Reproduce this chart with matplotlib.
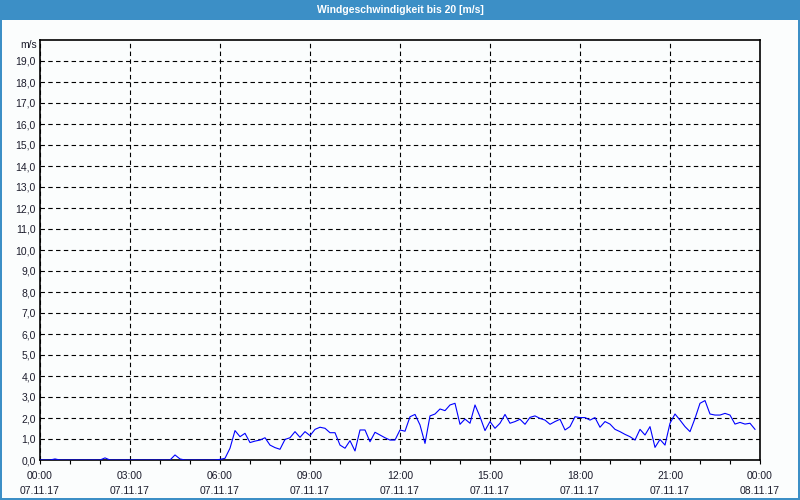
import numpy as np
import matplotlib
matplotlib.use("Agg")
import matplotlib.pyplot as plt
from matplotlib.patches import Rectangle
from matplotlib.ticker import MultipleLocator, FixedLocator

# ---- data (10-minute samples, 07.11.17 00:00 .. 23:50) ----
title = "Windgeschwindigkeit bis 20 [m/s]"
unit_label = "m/s"
step_minutes = 10
wind_speed = [
    0, 0, 0, 0.05, 0, 0, 0, 0, 0, 0, 0, 0,              # 00:00 - 01:50
    0, 0.10, 0, 0, 0, 0, 0, 0, 0, 0, 0, 0,              # 02:00 - 03:50
    0, 0, 0, 0.24, 0.05, 0, 0, 0, 0, 0, 0, 0,           # 04:00 - 05:50
    0.03, 0.08, 0.56, 1.40, 1.11, 1.27,                 # 06:00 - 06:50
    0.83, 0.90, 0.95, 1.06, 0.71, 0.59,                 # 07:00 - 07:50
    0.51, 0.98, 1.06, 1.35, 1.08, 1.35,                 # 08:00 - 08:50
    1.16, 1.46, 1.56, 1.51, 1.30, 1.30,                 # 09:00 - 09:50
    0.71, 0.56, 0.92, 0.43, 1.43, 1.43,                 # 10:00 - 10:50
    0.87, 1.32, 1.19, 1.06, 0.95, 0.95,                 # 11:00 - 11:50
    1.43, 1.37, 2.06, 2.17, 1.67, 0.79,                 # 12:00 - 12:50
    2.10, 2.19, 2.43, 2.35, 2.62, 2.70,                 # 13:00 - 13:50
    1.70, 1.95, 1.75, 2.62, 2.06, 1.40,                 # 14:00 - 14:50
    1.83, 1.51, 1.75, 2.17, 1.75, 1.83,                 # 15:00 - 15:50
    1.94, 1.70, 2.03, 2.10, 1.98, 1.90,                 # 16:00 - 16:50
    1.70, 1.83, 1.94, 1.43, 1.59, 2.06,                 # 17:00 - 17:50
    2.02, 2.02, 1.90, 2.02, 1.56, 1.83,                 # 18:00 - 18:50
    1.71, 1.46, 1.35, 1.22, 1.11, 0.95,                 # 19:00 - 19:50
    1.46, 1.19, 1.59, 0.60, 0.98, 0.71,                 # 20:00 - 20:50
    1.75, 2.19, 1.90, 1.59, 1.35, 1.98,                 # 21:00 - 21:50
    2.70, 2.83, 2.19, 2.14, 2.14, 2.22,                 # 22:00 - 22:50
    2.14, 1.71, 1.79, 1.71, 1.75, 1.46,                 # 23:00 - 23:50
]
x_tick_hours = [0, 3, 6, 9, 12, 15, 18, 21, 24]
x_tick_labels = ["00:00\n07.11.17", "03:00\n07.11.17", "06:00\n07.11.17",
                 "09:00\n07.11.17", "12:00\n07.11.17", "15:00\n07.11.17",
                 "18:00\n07.11.17", "21:00\n07.11.17", "00:00\n08.11.17"]
y_ticks = list(range(0, 20))
y_tick_labels = [f"{v},0" for v in y_ticks]

hours = np.arange(len(wind_speed)) * step_minutes / 60.0

# ---- figure ----
W, H = 800, 500
bg = "#fbfdfd"
blue = "#3c8fc6"
txt = "#1c1c2c"
fig = plt.figure(figsize=(W / 100, H / 100), dpi=100, facecolor=bg)

# title bar and window frame
fig.patches.append(Rectangle((0, 1 - 20 / H), 1, 20 / H, transform=fig.transFigure,
                             facecolor=blue, edgecolor="none", zorder=0))
fig.patches.append(Rectangle((0, 0), 2 / W, 1, transform=fig.transFigure,
                             facecolor=blue, edgecolor="none", zorder=0))
fig.patches.append(Rectangle((1 - 2 / W, 0), 2 / W, 1, transform=fig.transFigure,
                             facecolor=blue, edgecolor="none", zorder=0))
fig.patches.append(Rectangle((0, 0), 1, 2 / H, transform=fig.transFigure,
                             facecolor=blue, edgecolor="none", zorder=0))
fig.text(0.5, 1 - 10 / H, title, color="white", ha="center", va="center",
         fontsize=7.5, fontweight="bold", family="Liberation Sans")

ax = fig.add_axes([40 / W, 40 / H, 720 / W, 420 / H])
ax.set_facecolor(bg)
ax.plot(hours, wind_speed, color="#0000ff", lw=0.8, zorder=3)

ax.set_xlim(0, 24)
ax.set_ylim(0, 20)

ax.xaxis.set_major_locator(FixedLocator(x_tick_hours))
ax.set_xticklabels(x_tick_labels)
ax.xaxis.set_minor_locator(MultipleLocator(1))
ax.set_yticks(y_ticks)
ax.set_yticklabels(y_tick_labels)

for lbl in ax.get_xticklabels() + ax.get_yticklabels():
    lbl.set_family("Liberation Sans")
    lbl.set_fontsize(7.5)
    lbl.set_color(txt)
for lbl in ax.get_xticklabels():
    lbl.set_linespacing(1.6)

ax.tick_params(axis="x", which="both", direction="out", length=3, width=0.8,
               color="black", pad=5)
ax.tick_params(axis="y", which="both", length=0, pad=3)

ax.grid(True, which="major", color="black", linestyle=(0, (4, 3)), linewidth=0.8)
ax.grid(False, which="minor")
ax.set_axisbelow(True)

for s in ax.spines.values():
    s.set_color("black")
    s.set_linewidth(1.2)

ax.text(-3 / 720, 1 - 5 / 420, unit_label, transform=ax.transAxes, ha="right",
        va="center", fontsize=7.5, family="Liberation Sans", color=txt)

fig.savefig("out.png", dpi=100, facecolor=bg)
